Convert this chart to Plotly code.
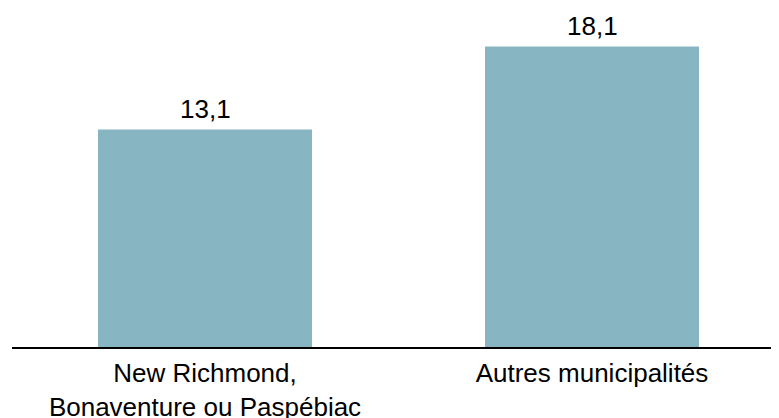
import plotly.graph_objects as go

categories = ["New Richmond,<br>Bonaventure ou Paspébiac", "Autres municipalités"]
values = [13.1, 18.1]
bar_color = "#87B6C2"

FONT = "Arial, Liberation Sans"

fig = go.Figure(
    go.Bar(
        x=categories,
        y=values,
        marker=dict(color=bar_color, line=dict(width=0)),
        width=0.553,
        hoverinfo="x+y",
    )
)

for cat, val in zip(categories, values):
    fig.add_annotation(
        x=cat,
        y=val,
        text=f"{val:.1f}".replace(".", ","),
        showarrow=False,
        yanchor="bottom",
        yshift=4,
        font=dict(family=FONT, size=26, color="#000000"),
    )

fig.update_layout(
    width=771,
    height=410,
    margin=dict(l=4, r=0, t=12, b=71),
    paper_bgcolor="white",
    plot_bgcolor="white",
    separators=", ",
    showlegend=False,
    font=dict(family=FONT, size=26, color="#000000"),
    xaxis=dict(
        range=[-0.4987, 1.4832],
        showline=True,
        linecolor="#000000",
        linewidth=2,
        ticks="",
        showgrid=False,
        zeroline=False,
        automargin=False,
        tickfont=dict(family=FONT, size=26, color="#000000"),
        ticklabelstandoff=2,
    ),
    yaxis=dict(
        range=[0, 19.70],
        visible=False,
        showgrid=False,
        zeroline=False,
        automargin=False,
    ),
)

fig.write_html("out.html")
